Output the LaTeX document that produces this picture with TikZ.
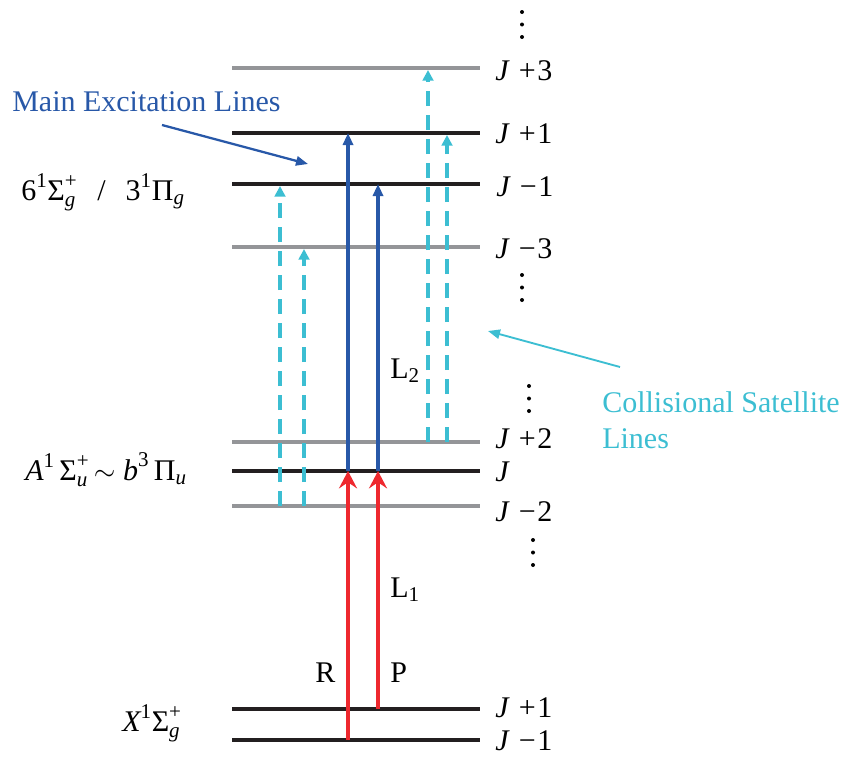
\documentclass[tikz,border=0pt]{standalone}
\usepackage{amsmath}
\usepackage{fontspec}
\setmainfont{Liberation Serif}
\usetikzlibrary{arrows.meta}

\definecolor{excblue}{RGB}{40,88,168}
\definecolor{pumpred}{RGB}{238,40,46}
\definecolor{satcyan}{RGB}{60,190,210}
\definecolor{levgray}{RGB}{148,149,152}
\definecolor{levblack}{RGB}{35,31,32}

\newcommand{\tx}[1]{\text{#1}}
\newcommand{\jlab}[2]{\textit{J}\hspace{0.3em}#1\hspace{0.06em}#2}

\begin{document}
\begin{tikzpicture}[x=0.75pt, y=-0.75pt,
  every node/.style={font=\fontsize{22.5}{27}\selectfont, inner sep=0pt},
  level/.style={levblack, line width=3pt},
  sublevel/.style={levgray, line width=2.4pt},
  pump/.style={pumpred, line width=2.8pt, -{Stealth[length=13pt, width=13.5pt, inset=4.5pt]}},
  probe/.style={excblue, line width=2.6pt, -{Triangle[length=9pt, width=7.5pt]}},
  coll/.style={satcyan, line width=2.5pt, dash pattern=on 11pt off 7pt, -{Triangle[length=8pt, width=8pt]}},
  note/.style={line width=1.7pt, -{Triangle[length=9pt, width=7pt]}},
  jlabel/.style={anchor=base west},
  state/.style={anchor=base west}
]
\useasboundingbox (0,0) rectangle (848,757);

% LEVELS
\foreach \y/\s in {68/sublevel, 133/level, 184/level, 247/sublevel,
                   442/sublevel, 471/level, 506/sublevel,
                   709/level, 740/level}
  \draw[\s] (232,\y) -- (480,\y);

% level labels
\node[jlabel] (lu3) at (495,80)  {\jlab{+}{3}};
\node[jlabel] (lu1) at (495,143) {\jlab{+}{1}};
\node[jlabel] (lum1) at (496,196) {\jlab{−}{1}};
\node[jlabel] (lum3) at (495,258) {\jlab{−}{3}};
\node[jlabel] (lm2) at (495,448) {\jlab{+}{2}};
\node[jlabel] (lm0) at (495,481) {\textit{J}};
\node[jlabel] (lmm2) at (495,521) {\jlab{−}{2}};
\node[jlabel] (lx1) at (495,717) {\jlab{+}{1}};
\node[jlabel] (lxm1) at (495,750) {\jlab{−}{1}};

% dots
\foreach \x/\y in {522/12, 522/275, 529/386, 533/540}
  \foreach \k in {0,12.5,25}
    \fill (\x,\y+\k) circle (1.5pt);

% STATE NAMES
\node[state] (upper) at (21,200)
  {$\tx{6}^{\tx{1}}\tx{Σ}^{\tx{+}}_{\textit{g}}\;\;\,\tx{/}\;\;\,\tx{3}^{\tx{1}}\tx{Π}_{\textit{g}}$};
\node[state] (mid) at (25,480)
  {$\textit{A}^{\tx{1}}\,\tx{Σ}^{\tx{+}}_{\textit{u}}\,{\sim}\;\textit{b}^{\tx{3}}\,\tx{Π}_{\textit{u}}$};
\node[state] (ground) at (122,731)
  {$\textit{X}^{\tx{1}}\tx{Σ}^{\tx{+}}_{\textit{g}}$};

% PUMP L1
\coordinate (rlow) at (348,740);
\coordinate (rtop) at (348,471);
\coordinate (plow) at (378,709);
\coordinate (ptop) at (378,471);
\draw[pump] (rlow) -- (rtop);
\draw[pump] (plow) -- (ptop);
\node[state] (rlab) at (315,682) {R};
\node[state] (plab) at (390,682) {P};
\node[state] (l1) at (390,597) {$\tx{L}_{\tx{1}}$};

% PROBE L2
\coordinate (bru) at (348,133);
\coordinate (bpu) at (378,184);
\draw[probe] (rtop) -- (bru);
\draw[probe] (ptop) -- (bpu);
\node[state] (l2) at (390,378) {$\tx{L}_{\tx{2}}$};

% COLLISIONAL SATELLITES
\coordinate (c1a) at (280,506); \coordinate (c1b) at (280,186);
\coordinate (c2a) at (304,506); \coordinate (c2b) at (304,249);
\coordinate (c3a) at (428,442); \coordinate (c3b) at (428,70);
\coordinate (c4a) at (447,442); \coordinate (c4b) at (447,135);
\draw[coll] (c1a) -- (c1b);
\draw[coll] (c2a) -- (c2b);
\draw[coll] (c3a) -- (c3b);
\draw[coll] (c4a) -- (c4b);

% annotations
\node[state, excblue] (mainlbl) at (12,111) {Main Excitation Lines};
\coordinate (maintail) at (162,125);
\coordinate (maintip) at (308,164);
\draw[note, excblue] (maintail) -- (maintip);

\node[anchor=north west, align=left, satcyan] (colllbl) at (602,391) {Collisional Satellite\\Lines};
\coordinate (colltail) at (620,367);
\coordinate (colltip) at (488,331);
\draw[note, satcyan, line width=1.4pt] (colltail) -- (colltip);

\end{tikzpicture}
\end{document}
